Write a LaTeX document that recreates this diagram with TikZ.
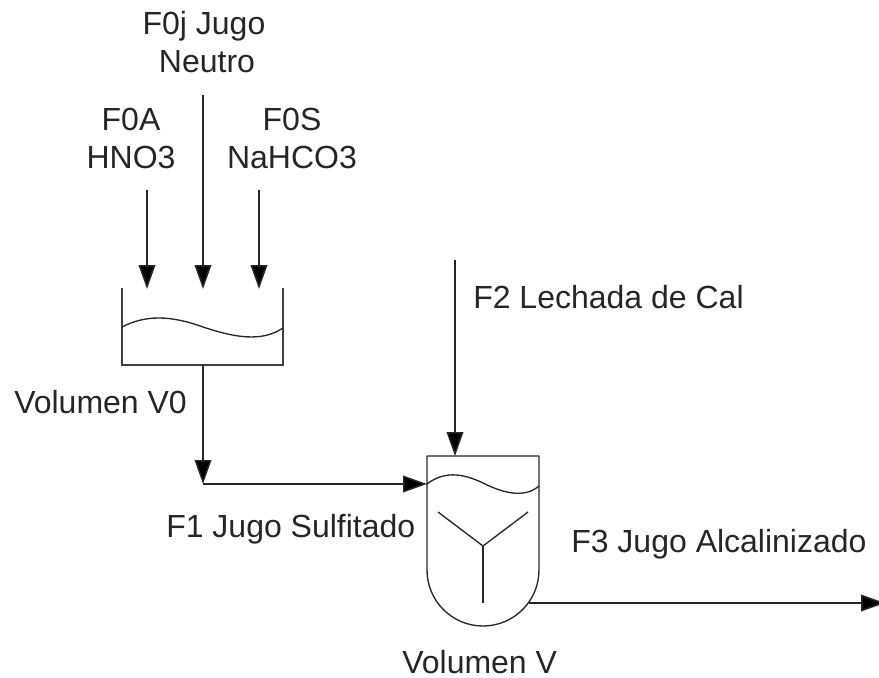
\documentclass[tikz,border=0pt]{standalone}
\usepackage{fontspec}
\setmainfont{Liberation Sans}
\usetikzlibrary{arrows.meta}
\tikzset{
 flow/.style={line width=1.15pt,draw=black!85,-{Triangle[length=18pt,width=12.5pt,fill=black]}},
 wall/.style={line width=1.3pt,draw=black!75},
 thinwall/.style={line width=1pt,draw=black!85,line join=round},
 lab/.style={inner sep=0pt,text=black!85,font=\fontsize{24}{28}\selectfont,anchor=base},
 labl/.style={lab,anchor=base west}
}
\begin{document}
\begin{tikzpicture}[x=0.75pt,y=-0.75pt]
\useasboundingbox (0,0) rectangle (879,678);
% labels
\node[lab] (t0j) at (204,34) {F0j Jugo};
\node[lab] (t0jb) at (207,72) {Neutro};
\node[lab] (t0a) at (131,130) {F0A};
\node[lab] (t0ab) at (131,168) {HNO3};
\node[lab] (t0s) at (292,130) {F0S};
\node[lab] (t0sb) at (292,168) {NaHCO3};
\node[labl] (tf2) at (473,308) {F2 Lechada de Cal};
\node[labl] (tv0) at (14,413) {Volumen V0};
\node[labl] (tf1) at (166,537) {F1 Jugo Sulfitado};
\node[labl] (tf3) at (571,552) {F3 Jugo Alcalinizado};
\node[labl] (tv) at (402,673) {Volumen V};
% points
\coordinate (a1) at (147,190); \coordinate (a2) at (147,289);
\coordinate (j1) at (203,95); \coordinate (j2) at (203,289);
\coordinate (s1) at (259,190); \coordinate (s2) at (259,289);
\coordinate (tl) at (122,288); \coordinate (bl) at (122,365);
\coordinate (br) at (283,365); \coordinate (tr) at (283,288);
\coordinate (out0) at (203,365); \coordinate (jn) at (203,484);
\coordinate (vl) at (427,484);
\coordinate (f2a) at (455,260); \coordinate (f2b) at (455,456);
\coordinate (out1) at (529,603); \coordinate (out2) at (885,603);
% feeds
\draw[flow] (a1) -- (a2);
\draw[flow] (j1) -- (j2);
\draw[flow] (s1) -- (s2);
\draw[flow] (f2a) -- (f2b);
% first tank
\draw[wall] (tl) -- (bl) -- (br) -- (tr);
\draw[thinwall] (122,327) .. controls (145,315) and (170,315) .. (203,327) .. controls (236,338) and (262,342) .. (283,328);
% outlet
\draw[flow] (out0) -- (jn);
\draw[flow] (jn) -- (vl);
% second tank
\draw[thinwall] (427,456) -- (539,456) -- (539,570) arc[start angle=0,end angle=-180,x radius=56,y radius=-56] -- cycle;
\draw[thinwall] (427,484) .. controls (443,472) and (460,472) .. (483,483) .. controls (505,494) and (525,498) .. (539,486);
\draw[thinwall] (438,512) -- (483,546) -- (528,512);
\draw[thinwall] (483,546) -- (483,603);
\draw[flow] (out1) -- (out2);
\end{tikzpicture}
\end{document}
